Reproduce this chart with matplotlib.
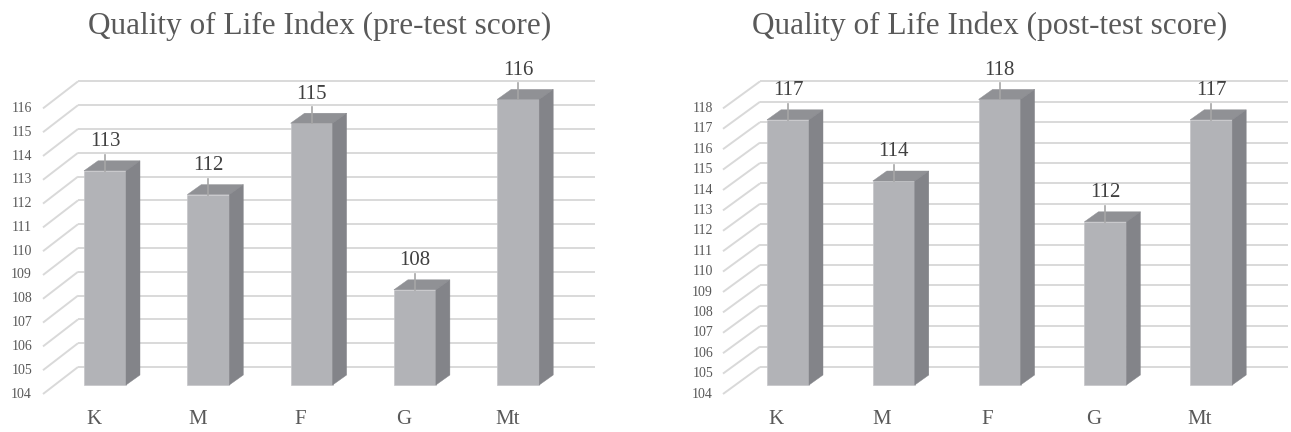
import matplotlib
matplotlib.use('Agg')
import matplotlib.pyplot as plt
from matplotlib.patches import Polygon

categories = ['K', 'M', 'F', 'G', 'Mt']
pre_scores = [113, 112, 115, 108, 116]
post_scores = [117, 114, 118, 112, 117]
pre_ticks = list(range(104, 117))
post_ticks = list(range(104, 119))
pre_title = 'Quality of Life Index (pre-test score)'
post_title = 'Quality of Life Index (post-test score)'

W, H = 1291, 432
FRONT = '#b2b3b7'
TOP = '#909195'
SIDE = '#838489'
GRID = '#d9d9d9'
TXT = '#595959'
LBL = '#404040'
SERIF = 'Liberation Serif'

fig = plt.figure(figsize=(W / 100, H / 100), dpi=100)
fig.patch.set_facecolor('white')

BASE_PX = 385  # pixel row (from top) of bar bottoms


def panel(x0, x1, c0, step, unit, values, ticks, title, title_x,
          wall_dx, diag_dx, lab_dx, cat_dx):
    ax = fig.add_axes([x0 / W, 0, (x1 - x0) / W, 1])
    base = ticks[0]
    ax.set_xlim((x0 - c0) / step, (x1 - c0) / step)
    ax.set_ylim(base - (H - BASE_PX) / unit, base + BASE_PX / unit)
    ax.axis('off')

    def px(d):
        return d / step

    def py(d):
        return d / unit

    n = len(values)
    wall_left = px(wall_dx)
    wall_right = (n - 1) + px(77)
    back_up = py(18)
    # back wall gridlines and side wall diagonals + tick labels
    for t in ticks:
        yb = t + back_up
        ax.plot([wall_left, wall_right], [yb, yb], color=GRID, lw=1.4,
                solid_capstyle='butt', zorder=1)
        yf = yb - py(27)
        xf = wall_left - px(diag_dx)
        ax.plot([xf, wall_left], [yf, yb], color=GRID, lw=1.4,
                solid_capstyle='butt', zorder=1)
        ax.text(wall_left - px(lab_dx), yf, str(t), ha='right', va='center',
                fontsize=10, color=TXT, family=SERIF)

    w = px(42)
    ddx, ddy = px(14), py(10)
    for i, v in enumerate(values):
        ax.bar(i, v - base, bottom=base, width=w, color=FRONT,
               edgecolor='#c4c5c8', linewidth=0.5, zorder=3)
        top = Polygon([(i - w / 2, v), (i + w / 2, v),
                       (i + w / 2 + ddx, v + ddy), (i - w / 2 + ddx, v + ddy)],
                      closed=True, facecolor=TOP, edgecolor=TOP, lw=0.3, zorder=3)
        side = Polygon([(i + w / 2, base), (i + w / 2 + ddx, base + ddy),
                        (i + w / 2 + ddx, v + ddy), (i + w / 2, v)],
                       closed=True, facecolor=SIDE, edgecolor=SIDE, lw=0.3, zorder=3)
        ax.add_patch(top)
        ax.add_patch(side)
        ax.plot([i, i], [v, v + py(16)], color='#a6a6a6', lw=1.2, zorder=4)
        ax.text(i, v + py(29), str(v), ha='center', va='center',
                fontsize=15, color=LBL, family=SERIF, zorder=5)
        ax.text(i - px(cat_dx), base - py(34), categories[i], ha='center',
                va='center', fontsize=15, color=TXT, family=SERIF)

    fig.text(title_x / W, 1 - 34 / H, title, ha='center', va='baseline',
             fontsize=22.5, color=TXT, family=SERIF)


panel(0, 645, 105, 103.3, 23.8, pre_scores, pre_ticks, pre_title, 320,
      -27, 35, 46, 11)
panel(645, 1291, 788, 105.8, 20.4, post_scores, post_ticks, post_title, 990,
      -28, 37, 47, 12)

fig.savefig('out.png', dpi=100, facecolor='white')
